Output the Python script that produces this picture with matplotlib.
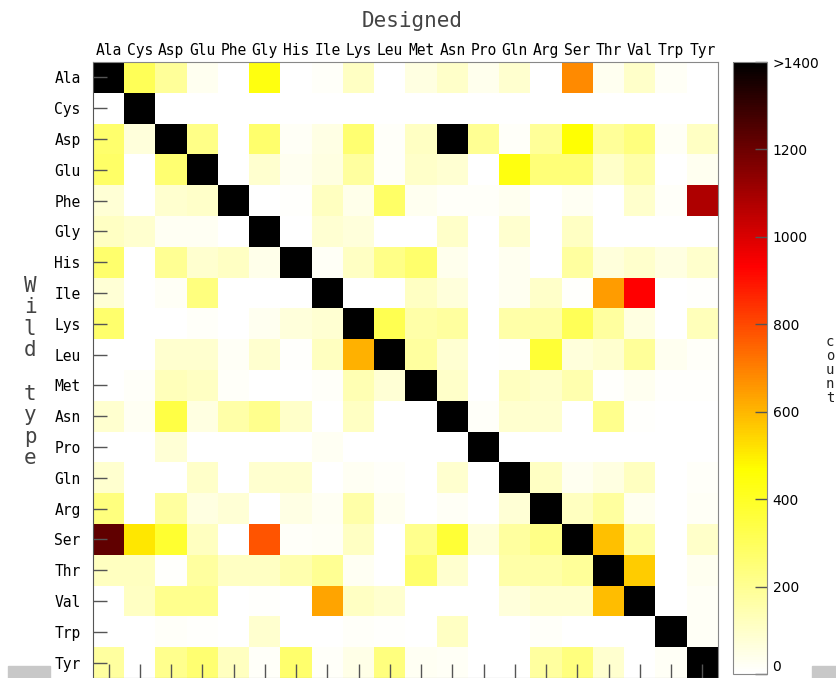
import numpy as np
import matplotlib
matplotlib.use('Agg')
import matplotlib.pyplot as plt
from matplotlib.colors import LinearSegmentedColormap
from matplotlib.patches import Rectangle

residues = ['Ala', 'Cys', 'Asp', 'Glu', 'Phe', 'Gly', 'His', 'Ile', 'Lys', 'Leu',
            'Met', 'Asn', 'Pro', 'Gln', 'Arg', 'Ser', 'Thr', 'Val', 'Trp', 'Tyr']

# rows = wild type, columns = designed (1500 stands for ">1400")
counts = [
    [1500, 310, 190, 30, 0, 440, 0, 15, 110, 0, 55, 100, 35, 90, 0, 680, 30, 100, 20, 0],     # Ala
    [0, 1500, 0, 0, 0, 0, 0, 0, 0, 0, 0, 0, 0, 0, 0, 0, 0, 0, 0, 0],                          # Cys
    [270, 70, 1500, 220, 0, 270, 20, 50, 260, 15, 110, 1500, 200, 15, 190, 460, 190, 240, 20, 110],  # Asp
    [280, 0, 260, 1500, 0, 90, 30, 55, 180, 15, 100, 85, 0, 440, 250, 250, 100, 160, 0, 30],  # Glu
    [80, 0, 90, 100, 1500, 0, 10, 120, 40, 280, 30, 15, 15, 30, 0, 25, 0, 95, 15, 1080],      # Phe
    [110, 90, 25, 25, 0, 1500, 0, 85, 70, 0, 0, 100, 0, 90, 0, 110, 0, 0, 0, 0],              # Gly
    [270, 0, 200, 90, 110, 40, 1500, 20, 110, 220, 270, 35, 0, 30, 0, 180, 70, 95, 60, 95],   # His
    [80, 0, 20, 240, 0, 0, 0, 1500, 0, 0, 110, 70, 0, 30, 100, 10, 650, 930, 0, 10],          # Ile
    [270, 0, 0, 15, 0, 30, 70, 85, 1500, 320, 160, 180, 0, 160, 160, 310, 180, 60, 0, 130],   # Lys
    [0, 0, 90, 90, 20, 90, 10, 120, 610, 1500, 180, 85, 0, 10, 370, 70, 90, 190, 30, 15],     # Leu
    [0, 15, 130, 110, 15, 0, 0, 15, 140, 80, 1500, 100, 0, 120, 100, 150, 10, 30, 10, 10],    # Met
    [90, 25, 340, 55, 160, 210, 100, 0, 110, 0, 0, 1500, 15, 90, 90, 0, 210, 10, 0, 0],       # Asn
    [0, 0, 80, 0, 0, 0, 0, 25, 0, 0, 0, 0, 1500, 0, 0, 0, 0, 0, 0, 0],                        # Pro
    [90, 0, 0, 100, 0, 90, 90, 0, 25, 15, 0, 90, 0, 1500, 110, 30, 55, 120, 0, 15],           # Gln
    [240, 0, 180, 55, 80, 0, 50, 25, 160, 30, 0, 20, 0, 80, 1500, 120, 180, 30, 0, 20],       # Arg
    [1220, 510, 380, 120, 0, 780, 15, 20, 110, 0, 210, 370, 70, 180, 220, 1500, 580, 160, 0, 100],  # Ser
    [120, 120, 10, 180, 110, 110, 150, 200, 25, 0, 270, 90, 0, 160, 160, 190, 1500, 560, 0, 30],    # Thr
    [0, 110, 210, 210, 0, 10, 0, 630, 110, 90, 0, 0, 0, 70, 90, 90, 590, 1500, 0, 20],        # Val
    [0, 0, 15, 10, 0, 90, 0, 0, 15, 10, 0, 110, 0, 0, 15, 0, 0, 0, 1500, 20],                 # Trp
    [180, 0, 210, 260, 120, 15, 270, 15, 45, 240, 25, 20, 0, 0, 180, 240, 90, 0, 20, 1500],   # Tyr
]

cbar_ticks = [0, 200, 400, 600, 800, 1000, 1200, 1400]
cbar_labels = ['0', '200', '400', '600', '800', '1000', '1200', '>1400']

cmap = LinearSegmentedColormap.from_list(
    'whot', [(0, 'white'), (1/3, '#ffff00'), (2/3, '#ff0000'), (1, 'black')])

W, H = 837, 678
fig = plt.figure(figsize=(W/100, H/100), dpi=100)
ax = fig.add_axes([93/W, 0, 625/W, 616/H])

im = ax.imshow(np.array(counts), cmap=cmap, vmin=0, vmax=1400,
               aspect='auto', interpolation='nearest')

mono = 'DejaVu Sans Mono'
ax.set_xticks(range(len(residues)))
ax.set_xticklabels(residues, family=mono, fontsize=10.5)
ax.set_yticks(range(len(residues)))
ax.set_yticklabels(residues, family=mono, fontsize=10.5)
ax.tick_params(axis='x', top=False, bottom=True, labeltop=True, labelbottom=False,
               direction='in', length=10, width=1, color='#555555', pad=3)
ax.tick_params(axis='y', left=True, right=False, direction='in',
               length=10, width=1, color='#555555', pad=9)
for s in ax.spines.values():
    s.set_color('#888888')
ax.spines['left'].set_color('#555555')

fig.text(412/W, 1 - 21/H, 'Designed', family=mono, fontsize=15,
         color='#444444', ha='center', va='center')
fig.text(30/W, 1 - 372/H, '\n'.join('Wild type'), family=mono, fontsize=15,
         color='#444444', ha='center', va='center', linespacing=1.1)

cax = fig.add_axes([733/W, 4/H, 34/W, 612/H])
cb = fig.colorbar(im, cax=cax, ticks=cbar_ticks)
cb.ax.set_yticklabels(cbar_labels, family='DejaVu Sans', fontsize=10)
cb.ax.tick_params(direction='in', length=9, width=1, color='#555555', pad=4)
cb.ax.get_yticklabels()[0].set_verticalalignment('bottom')
cb.outline.set_edgecolor('#888888')
fig.text(830/W, 1 - 370/H, '\n'.join('count'), family=mono, fontsize=10,
         color='#222222', ha='center', va='center', linespacing=1.0)

fig.add_artist(Rectangle((8/W, 0), 42/W, 12/H, transform=fig.transFigure,
                         color='#c8c8c8'))
fig.add_artist(Rectangle((812/W, 0), 25/W, 12/H, transform=fig.transFigure,
                         color='#c8c8c8'))

fig.savefig('out.png', dpi=100)
